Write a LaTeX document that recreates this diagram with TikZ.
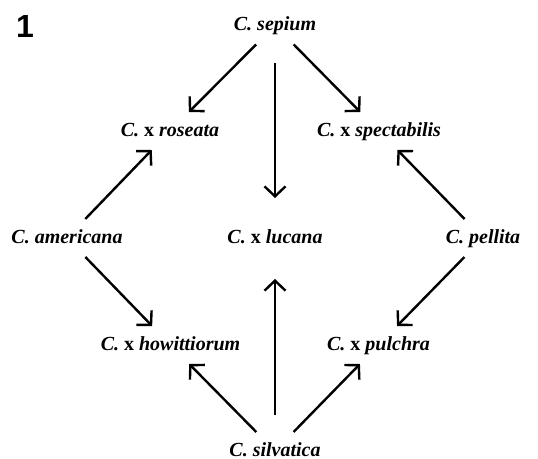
\documentclass[tikz,border=0pt]{standalone}
\usepackage{fontspec}
\setmainfont{Liberation Serif}
\setsansfont{Liberation Sans}
\usetikzlibrary{arrows.meta}

\newcommand{\hyb}{\textup{x}}

\tikzset{
  taxon/.style={font=\fontsize{20}{24}\selectfont\bfseries\itshape, inner sep=0pt, outer sep=0pt,
    text height=14pt, text depth=4pt, minimum height=38pt},
  cross/.style={draw=black, line width=2.4pt, -{Straight Barb[length=10pt,width=21pt]}}
}

\begin{document}
\begin{tikzpicture}[x=1pt,y=-1pt]
    \useasboundingbox (0,0) rectangle (538,458);

    \node[font=\fontsize{32}{36}\selectfont\sffamily\bfseries] (num) at (25,26) {1};

    \node[taxon] (sep) at (275,25.5) {C. sepium};
    \node[taxon] (ros) at (170,131) {C. \hyb{} roseata};
    \node[taxon] (spe) at (379,131) {C. \hyb{} spectabilis};
    \node[taxon] (ame) at (67,238) {C. americana};
    \node[taxon] (luc) at (275,238) {C. \hyb{} lucana};
    \node[taxon] (pel) at (483,238) {C. pellita};
    \node[taxon] (how) at (170.5,345) {C. \hyb{} howittiorum};
    \node[taxon] (pul) at (378.5,345) {C. \hyb{} pulchra};
    \node[taxon] (sil) at (275,451) {C. silvatica};

    \path (sep) edge[cross] (ros);
    \path (sep) edge[cross] (spe);
    \path (sep) edge[cross, shorten <=18pt, shorten >=21pt] (luc);
    \path (ame) edge[cross] (ros);
    \path (ame) edge[cross] (how);
    \path (pel) edge[cross] (spe);
    \path (pel) edge[cross] (pul);
    \path (sil) edge[cross] (how);
    \path (sil) edge[cross] (pul);
    \path (sil) edge[cross, shorten <=17pt, shorten >=22pt] (luc);
  \end{tikzpicture}
\end{document}
